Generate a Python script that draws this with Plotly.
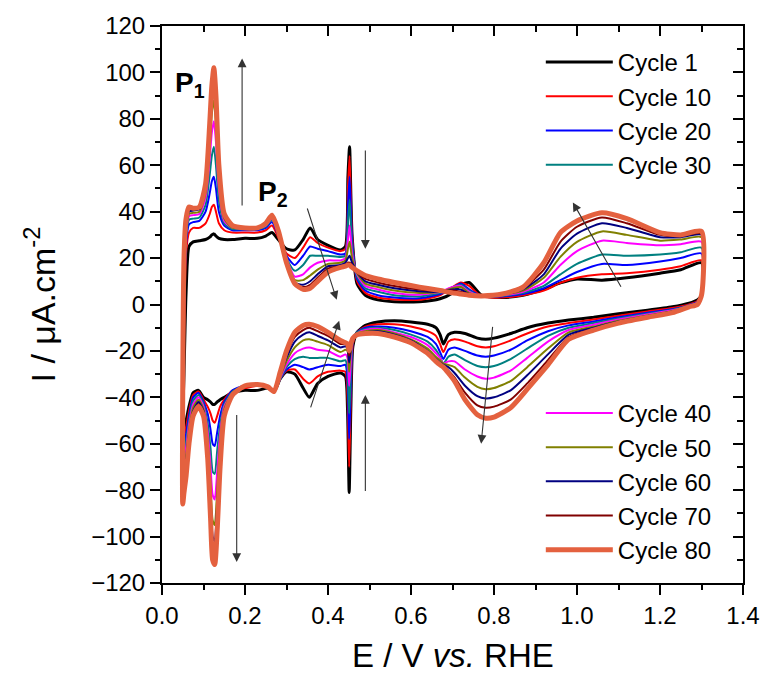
import plotly.graph_objects as go

# ---------------- data ----------------
CYCLES = ["Cycle 1", "Cycle 10", "Cycle 20", "Cycle 30", "Cycle 40",
          "Cycle 50", "Cycle 60", "Cycle 70", "Cycle 80"]
COLORS = ["#000000", "#FF0000", "#0000FF", "#008080", "#FF00FF",
          "#808000", "#000080", "#800000", "#E4613F"]
WIDTHS = [3, 2, 2, 2, 2, 2, 2, 2, 5]

# anodic sweep potentials (V vs RHE)
A_E = [0.050, 0.053, 0.058, 0.065, 0.075, 0.090, 0.105, 0.115, 0.120, 0.125,
       0.130, 0.137, 0.150, 0.170, 0.200, 0.230, 0.250, 0.265, 0.280, 0.300,
       0.320, 0.340, 0.357, 0.375, 0.400, 0.430, 0.442, 0.448, 0.452, 0.458,
       0.470, 0.490, 0.520, 0.560, 0.620, 0.670, 0.700, 0.720, 0.740, 0.770,
       0.820, 0.870, 0.920, 0.960, 1.000, 1.060, 1.120, 1.200, 1.250, 1.300]

A_1 = [-55, -30, 5, 25, 27, 27.5, 28, 29, 30, 30.5,
       29.5, 28.5, 28, 28, 28.5, 28.5, 29.5, 31, 28, 24,
       23.5, 28, 33, 28, 25.5, 23.5, 25, 55, 68, 30,
       9, 4, 2, 1.2, 1.2, 2.5, 5, 8.5, 9.5, 4,
       3, 4, 6.5, 9.3, 11, 10.5, 11.5, 13.5, 15, 18]
A_10 = [-60, -15, 22, 31, 33, 33, 35, 39, 42, 43,
        40, 35, 32, 31, 31, 31, 32, 34, 29, 22,
        20, 24.5, 29, 26.5, 24.5, 23, 24, 50, 64, 30,
        10, 5, 3, 2.2, 2, 4, 7.5, 9.5, 8, 3.5,
        3, 4, 6, 9.3, 11.5, 13, 13.5, 15, 16.5, 19]
A_20 = [-65, -5, 26, 34.5, 35.5, 36, 40, 48, 53, 55,
        50, 40, 34, 32, 32, 32, 33, 35.5, 30, 21,
        17, 21, 25, 24, 23, 21.5, 22, 42, 55, 28,
        11, 6, 4, 3, 2.7, 4.5, 7, 9, 6.5, 3.5,
        3.5, 4.5, 7, 10.5, 14, 17.5, 17, 18.5, 20, 22]
A_30 = [-68, 0, 29, 36.5, 37, 37.5, 43, 56, 64, 68,
        60, 45, 35, 32.5, 32.5, 32.5, 33.5, 36.5, 31, 20,
        14.5, 17, 21, 21, 21, 20.5, 21, 35, 45, 25,
        12, 7, 5.5, 4, 3.5, 5, 7.5, 8.5, 6, 3.5,
        3.8, 5, 8, 13, 17.5, 21.5, 21, 21.5, 22.5, 24.5]
A_40 = [-72, 5, 31, 38, 38.5, 39, 46, 63, 74, 79,
        70, 50, 36, 33, 33, 33, 34, 37, 31.5, 19.5,
        12, 13, 16, 18, 19, 19, 20, 28, 34, 22,
        13, 8, 6.5, 5, 4.2, 5.5, 7.5, 8, 5.5, 3.5,
        4, 5.5, 9.5, 17, 23, 27.5, 26.5, 25.5, 26, 27]
A_50 = [-75, 8, 32, 39, 39.5, 40, 48, 68, 82, 88,
        78, 54, 37, 33, 33, 33, 34.5, 37.5, 32, 19,
        10.5, 10.5, 12.5, 15, 17.5, 18, 19, 24, 27, 20,
        13.5, 9, 7.5, 6, 5, 5.5, 7, 7.5, 5, 3.5,
        4.2, 6, 11.5, 20.5, 27, 31.5, 30, 27.5, 28, 29]
A_60 = [-78, 10, 33, 40, 40.5, 41, 50, 72, 87, 93,
        82, 56, 38, 33.5, 33, 33, 35, 38, 32, 18.5,
        9.5, 8.5, 10, 13, 16.5, 17, 18, 20, 21, 18,
        14, 10, 8.5, 7, 5.7, 5.5, 6.5, 6.5, 4.5, 3.5,
        4.3, 6.5, 13, 24, 30.5, 35, 33, 29, 29, 30]
A_70 = [-82, 14, 34, 41, 41, 41.5, 51, 75, 90, 97,
        86, 58, 38.5, 33.5, 33, 33, 35, 38, 32, 18,
        9, 7.5, 8.5, 11.5, 15.5, 16.5, 17, 18, 18, 17,
        14, 11, 9.5, 8, 6.5, 5.8, 6, 5.5, 4.5, 3.5,
        4.5, 7, 15, 27, 33.5, 37.5, 35, 30, 29.5, 30.5]
A_80 = [-86, 20, 37, 42, 41.5, 42, 52, 78, 94, 102,
        90, 60, 39, 34, 33, 33, 35, 38.5, 32, 18,
        9, 6.5, 7, 10, 14, 16, 16.5, 17, 17, 16,
        14.5, 12.5, 11, 9.5, 7.5, 6, 5, 4.5, 4, 3.7,
        4.5, 7.5, 18, 31, 36, 39.5, 37, 31, 30, 31.5]

# cathodic sweep potentials (V vs RHE)
C_E = [1.300, 1.290, 1.270, 1.230, 1.170, 1.100, 1.040, 0.980, 0.930, 0.880,
       0.840, 0.800, 0.780, 0.760, 0.730, 0.705, 0.690, 0.678, 0.670, 0.660,
       0.640, 0.600, 0.560, 0.520, 0.490, 0.470, 0.460, 0.455, 0.451, 0.447,
       0.442, 0.430, 0.400, 0.375, 0.355, 0.340, 0.320, 0.300, 0.285, 0.270,
       0.255, 0.230, 0.200, 0.170, 0.150, 0.140, 0.133, 0.127, 0.122, 0.117,
       0.110, 0.100, 0.088, 0.075, 0.065, 0.058, 0.053, 0.050]

C_1 = [4, 2, 0.6, -1, -2.5, -4, -5.5, -6.7, -8, -10,
       -12.5, -14.5, -15, -14.5, -12.5, -12, -13, -17, -13, -10,
       -8.5, -7.5, -7, -7.5, -9, -12, -18, -45, -81, -45,
       -31, -29.5, -31, -34, -40, -36, -30, -29, -32, -37.5,
       -36, -37, -37, -38, -40, -41, -42, -43, -43, -42,
       -41, -40, -37, -38, -44, -50, -53, -55]
C_10 = [4, 1.5, 0, -1.5, -3, -4.8, -6.5, -8, -9.5, -12.5,
        -15.5, -18, -18.5, -18, -16, -15, -16, -20.5, -17, -13.5,
        -11.5, -9.5, -8.5, -8.5, -9.5, -12, -17, -40, -70, -40,
        -29, -28.5, -29, -31, -34, -32, -28, -28.5, -32, -37.5,
        -35.5, -35, -36, -37, -41, -44, -48, -51, -50, -47,
        -44, -41, -37.5, -39, -46, -53, -57, -60]
C_20 = [4, 1.2, -0.3, -2, -3.5, -5.5, -7.3, -9, -11.5, -15.5,
        -19.5, -22, -22.5, -22, -20, -18.5, -19.5, -23.5, -20.5, -17,
        -14, -11.5, -10, -9.5, -10, -12, -16, -35, -58, -33,
        -26, -26.5, -26, -27, -28, -27, -26, -28, -32, -37.5,
        -35.5, -34.5, -35, -37, -42, -48, -55, -61, -60, -54,
        -47, -42, -38, -40, -48, -56, -61, -65]
C_30 = [4, 1, -0.5, -2.2, -4, -6, -8, -10, -13.5, -19,
        -23.5, -26.5, -27, -26.5, -24, -21.5, -22.5, -25.5, -22.5, -19.5,
        -16, -13, -11, -10, -10.5, -12, -15, -30, -47, -28,
        -24, -24.5, -23, -23, -23, -22.5, -23.5, -27, -32, -37.5,
        -35.5, -34.5, -35, -37.5, -43, -52, -63, -73, -72, -62,
        -51, -43, -39, -41.5, -50, -59, -64, -68]
C_40 = [4, 0.8, -0.7, -2.5, -4.3, -6.5, -8.7, -11, -16, -23,
        -28.5, -31.5, -32, -31, -28, -24.5, -24.5, -25.5, -23, -21,
        -17.5, -14, -12, -10.5, -11, -12.5, -14.5, -25, -35, -23,
        -21.5, -22.5, -20, -19.5, -18.5, -19, -21, -26, -31.5, -37.5,
        -35.5, -34.5, -35, -38, -44, -56, -72, -84, -82, -70,
        -55, -44, -40, -43, -52, -62, -68, -72]
C_50 = [4, 0.6, -0.8, -2.8, -4.7, -7, -9.5, -12, -19, -27,
        -33, -36, -36.5, -35.5, -31.5, -27, -26, -25.5, -24, -22.5,
        -19, -15, -12.5, -11, -11.5, -12.5, -14.5, -21, -29, -20,
        -19.5, -20.5, -17.5, -16, -15, -15.5, -18.5, -24.5, -31, -37.5,
        -35.5, -34.5, -35, -38, -45, -60, -80, -95, -93, -78,
        -59, -45, -41, -44.5, -54, -65, -71, -75]
C_60 = [4, 0.4, -0.9, -3, -5, -7.3, -10, -13, -21.5, -30.5,
        -37, -40, -40.5, -39.5, -35, -29.5, -27, -26, -25, -23.5,
        -20, -15.5, -13, -11.5, -12, -13, -14.5, -19, -25, -19,
        -18, -18.5, -15.5, -13.5, -12, -13, -16, -23, -30, -37.5,
        -35.5, -34.5, -35, -38.5, -46, -63, -86, -102, -100, -84,
        -62, -46, -42, -46, -56, -68, -74, -78]
C_70 = [4, 0.2, -1, -3.2, -5.3, -7.6, -10.5, -14, -24, -34,
        -41, -44, -44.5, -43.5, -38, -31.5, -28.5, -26.5, -25.5, -24,
        -20.5, -16, -13.5, -12, -12, -13, -14.5, -18, -22, -18,
        -17, -17, -13.5, -11.5, -10, -11, -14, -21.5, -29.5, -37.5,
        -35.5, -34.5, -35, -39, -47, -66, -91, -107, -105, -88,
        -64, -47, -43, -47, -58, -71, -78, -82]
C_80 = [4, 0, -1, -3.5, -5.5, -8, -11, -15, -26, -36.5,
        -44.5, -48.5, -49, -47.5, -41, -33, -29.5, -27, -26, -24.5,
        -21, -16.5, -14, -12.5, -12.5, -13, -14.5, -17, -20, -17,
        -16.5, -15.5, -12, -9.5, -8.5, -9, -12, -20, -29, -37.5,
        -35.5, -34.5, -35, -39, -48, -70, -97, -112, -110, -92,
        -66, -48, -44, -48, -60, -74, -81, -86]

ANODIC = [A_1, A_10, A_20, A_30, A_40, A_50, A_60, A_70, A_80]
CATHODIC = [C_1, C_10, C_20, C_30, C_40, C_50, C_60, C_70, C_80]

X_TICKS = [0.0, 0.2, 0.4, 0.6, 0.8, 1.0, 1.2, 1.4]
Y_TICKS = [-120, -100, -80, -60, -40, -20, 0, 20, 40, 60, 80, 100, 120]

# arrows: (tail E, tail I, head E, head I)
ARROWS = [(0.193, 42, 0.193, 106), (0.490, 67, 0.490, 24),
          (0.349, 42, 0.421, 2), (0.357, -45, 0.427, -7),
          (0.180, -47, 0.180, -111), (0.490, -81, 0.490, -39),
          (1.108, 7, 0.990, 44), (0.797, -9, 0.769, -60)]

# ---------------- figure ----------------
FONT = "Liberation Sans, Arial, sans-serif"
fig = go.Figure()

for i, name in enumerate(CYCLES):
    fig.add_trace(go.Scatter(
        x=A_E + C_E, y=ANODIC[i] + CATHODIC[i], mode="lines", name=name,
        line=dict(color=COLORS[i], width=WIDTHS[i], shape="spline", smoothing=0.6),
        legend="legend" if i < 4 else "legend2", legendgroup=name,
        hoverinfo="skip"))

# dummy trace to activate mirrored (inside-tick) axes
fig.add_trace(go.Scatter(x=[None], y=[None], xaxis="x2", yaxis="y2",
                         showlegend=False, hoverinfo="skip"))

axis_common = dict(showline=True, linewidth=2, linecolor="black", automargin=False,
                   tickwidth=2, tickcolor="black", showgrid=False, zeroline=False,
                   tickfont=dict(family=FONT, size=24, color="black"))

fig.update_layout(
    width=764, height=679,
    margin=dict(l=162, r=21, t=26, b=96, autoexpand=False),
    plot_bgcolor="white", paper_bgcolor="white",
    xaxis=dict(range=[0, 1.4], tickvals=X_TICKS, tickformat=".1f",
               ticks="outside", ticklen=10,
               minor=dict(ticks="outside", ticklen=5, dtick=0.1, tick0=0,
                          tickwidth=2, tickcolor="black"),
               **axis_common),
    yaxis=dict(range=[-120, 120], tickvals=Y_TICKS,
               ticks="outside", ticklen=10,
               minor=dict(ticks="outside", ticklen=5, dtick=10, tick0=0,
                          tickwidth=2, tickcolor="black"),
               **axis_common),
    xaxis2=dict(range=[0, 1.4], overlaying="x", side="top", anchor="y2",
                tickvals=X_TICKS, showticklabels=False, ticks="inside", ticklen=10,
                minor=dict(ticks="inside", ticklen=6, dtick=0.1, tick0=0,
                           tickwidth=2, tickcolor="black"),
                **axis_common),
    yaxis2=dict(range=[-120, 120], overlaying="y", side="right", anchor="x2",
                tickvals=Y_TICKS, showticklabels=False, ticks="inside", ticklen=10,
                minor=dict(ticks="inside", ticklen=6, dtick=10, tick0=0,
                           tickwidth=2, tickcolor="black"),
                **axis_common),
    legend=dict(x=0.652, y=0.975, xanchor="left", yanchor="top",
                bgcolor="rgba(0,0,0,0)", borderwidth=0, itemwidth=67,
                traceorder="grouped", tracegroupgap=0,
                font=dict(family=FONT, size=24, color="black")),
    legend2=dict(x=0.652, y=0.345, xanchor="left", yanchor="top",
                 bgcolor="rgba(0,0,0,0)", borderwidth=0, itemwidth=67,
                 traceorder="grouped", tracegroupgap=0,
                 font=dict(family=FONT, size=24, color="black")),
    showlegend=True,
)

# axis titles
fig.add_annotation(x=0.5, y=-0.131, xref="paper", yref="paper",
                   xanchor="center", yanchor="middle", showarrow=False,
                   text="E / V <i>vs.</i> RHE",
                   font=dict(family=FONT, size=33, color="black"))
fig.add_annotation(x=-0.210, y=0.5, xref="paper", yref="paper",
                   xanchor="center", yanchor="middle", showarrow=False,
                   textangle=-90, text="I / μA.cm<sup>-2</sup>",
                   font=dict(family=FONT, size=34, color="black"))

for (tx, ty, hx, hy) in ARROWS:
    fig.add_annotation(x=hx, y=hy, ax=tx, ay=ty, xref="x", yref="y",
                       axref="x", ayref="y", text="", showarrow=True,
                       arrowhead=2, arrowsize=1.6, arrowwidth=1.1,
                       arrowcolor="#333333")

fig.add_annotation(x=0.067, y=95, xref="x", yref="y", showarrow=False,
                   text="<b>P<sub>1</sub></b>",
                   font=dict(family=FONT, size=28, color="black"))
fig.add_annotation(x=0.267, y=48, xref="x", yref="y", showarrow=False,
                   text="<b>P<sub>2</sub></b>",
                   font=dict(family=FONT, size=28, color="black"))

fig.write_html("out.html")
